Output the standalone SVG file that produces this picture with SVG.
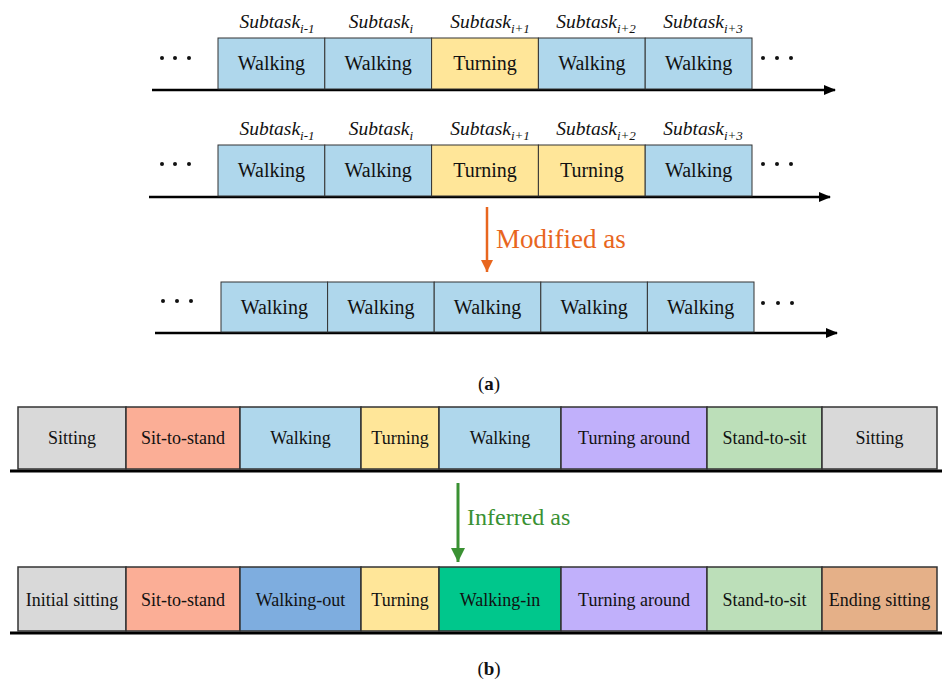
<svg xmlns="http://www.w3.org/2000/svg" width="942" height="684" viewBox="0 0 942 684">
<defs>
<style>
text{font-family:"Liberation Serif","Times New Roman",serif;fill:#111}
.t{font-size:20px;text-anchor:middle}
.tb{font-size:18px;text-anchor:middle}
.lab{font-size:19.5px;font-style:italic;text-anchor:middle}
.sub{font-size:13px}
.ba{stroke:#333;stroke-width:1}
.bb{stroke:#333;stroke-width:1.5}
.blue{fill:#AFD7EC}.yel{fill:#FFE699}.gray{fill:#D9D9D9}.sal{fill:#FBAE96}.pur{fill:#C1B0FB}.lg{fill:#BCDFB9}.wo{fill:#7EADDF}.wi{fill:#00C78C}.es{fill:#E5B088}
.axis{stroke:#000;stroke-width:2.5;fill:none}
.dot{fill:#111}
</style>
<marker id="ah" markerWidth="12" markerHeight="10" refX="11" refY="5" orient="auto" markerUnits="userSpaceOnUse"><path d="M0,0 L12,5 L0,10 Z" fill="#000"/></marker>
<marker id="ao" markerWidth="12" markerHeight="12" refX="6" refY="12" orient="0" markerUnits="userSpaceOnUse"><path d="M0,0 L12,0 L6,12 Z" fill="#E8661E"/></marker>
<marker id="ag" markerWidth="14" markerHeight="14" refX="7" refY="14" orient="0" markerUnits="userSpaceOnUse"><path d="M0,0 L14,0 L7,14 Z" fill="#3A9133"/></marker>
</defs>
<rect width="942" height="684" fill="#fff"/>

<g id="connectors">
<line class="axis" x1="152" y1="90" x2="835" y2="90" marker-end="url(#ah)"/>
<line class="axis" x1="149" y1="197" x2="830" y2="197" marker-end="url(#ah)"/>
<line class="axis" x1="155" y1="333" x2="837" y2="333" marker-end="url(#ah)"/>
<line x1="10" y1="471" x2="942" y2="471" stroke="#000" stroke-width="3"/>
<line x1="10" y1="633" x2="942" y2="633" stroke="#000" stroke-width="3"/>
<line x1="487" y1="207" x2="487" y2="272" stroke="#E8661E" stroke-width="2.5" marker-end="url(#ao)"/>
<line x1="458" y1="483" x2="458" y2="562" stroke="#3A9133" stroke-width="3" marker-end="url(#ag)"/>
</g>

<g id="row-a1">
<g id="a1-dots-l"><circle class="dot" cx="162" cy="58" r="2"/><circle class="dot" cx="175" cy="58" r="2"/><circle class="dot" cx="189" cy="58" r="2"/></g>
<g id="a1-n1"><rect class="ba blue" x="218" y="38" width="106.8" height="51"/><text class="t" x="271.4" y="70">Walking</text><text class="lab" x="277" y="28">Subtask<tspan class="sub" dy="5">i-1</tspan></text></g>
<g id="a1-n2"><rect class="ba blue" x="324.8" y="38" width="106.8" height="51"/><text class="t" x="378.2" y="70">Walking</text><text class="lab" x="381" y="28">Subtask<tspan class="sub" dy="5">i</tspan></text></g>
<g id="a1-n3"><rect class="ba yel" x="431.6" y="38" width="106.8" height="51"/><text class="t" x="485" y="70">Turning</text><text class="lab" x="490" y="28">Subtask<tspan class="sub" dy="5">i+1</tspan></text></g>
<g id="a1-n4"><rect class="ba blue" x="538.4" y="38" width="106.8" height="51"/><text class="t" x="591.8" y="70">Walking</text><text class="lab" x="596" y="28">Subtask<tspan class="sub" dy="5">i+2</tspan></text></g>
<g id="a1-n5"><rect class="ba blue" x="645.2" y="38" width="106.8" height="51"/><text class="t" x="698.6" y="70">Walking</text><text class="lab" x="703" y="28">Subtask<tspan class="sub" dy="5">i+3</tspan></text></g>
<g id="a1-dots-r"><circle class="dot" cx="763" cy="58" r="2"/><circle class="dot" cx="777" cy="58" r="2"/><circle class="dot" cx="791" cy="58" r="2"/></g>
</g>

<g id="row-a2">
<g id="a2-dots-l"><circle class="dot" cx="162" cy="164" r="2"/><circle class="dot" cx="175" cy="164" r="2"/><circle class="dot" cx="189" cy="164" r="2"/></g>
<g id="a2-n1"><rect class="ba blue" x="218" y="145" width="106.8" height="51"/><text class="t" x="271.4" y="177">Walking</text><text class="lab" x="277" y="135">Subtask<tspan class="sub" dy="5">i-1</tspan></text></g>
<g id="a2-n2"><rect class="ba blue" x="324.8" y="145" width="106.8" height="51"/><text class="t" x="378.2" y="177">Walking</text><text class="lab" x="381" y="135">Subtask<tspan class="sub" dy="5">i</tspan></text></g>
<g id="a2-n3"><rect class="ba yel" x="431.6" y="145" width="106.8" height="51"/><text class="t" x="485" y="177">Turning</text><text class="lab" x="490" y="135">Subtask<tspan class="sub" dy="5">i+1</tspan></text></g>
<g id="a2-n4"><rect class="ba yel" x="538.4" y="145" width="106.8" height="51"/><text class="t" x="591.8" y="177">Turning</text><text class="lab" x="596" y="135">Subtask<tspan class="sub" dy="5">i+2</tspan></text></g>
<g id="a2-n5"><rect class="ba blue" x="645.2" y="145" width="106.8" height="51"/><text class="t" x="698.6" y="177">Walking</text><text class="lab" x="703" y="135">Subtask<tspan class="sub" dy="5">i+3</tspan></text></g>
<g id="a2-dots-r"><circle class="dot" cx="763" cy="164" r="2"/><circle class="dot" cx="777" cy="164" r="2"/><circle class="dot" cx="791" cy="164" r="2"/></g>
</g>

<g id="modified-label"><text x="496" y="248" font-size="27" style="fill:#E8661E">Modified as</text></g>

<g id="row-a3">
<g id="a3-dots-l"><circle class="dot" cx="163" cy="301" r="2"/><circle class="dot" cx="177" cy="301" r="2"/><circle class="dot" cx="191" cy="301" r="2"/></g>
<g id="a3-n1"><rect class="ba blue" x="221" y="282" width="106.6" height="50"/><text class="t" x="274.3" y="314">Walking</text></g>
<g id="a3-n2"><rect class="ba blue" x="327.6" y="282" width="106.6" height="50"/><text class="t" x="380.9" y="314">Walking</text></g>
<g id="a3-n3"><rect class="ba blue" x="434.2" y="282" width="106.6" height="50"/><text class="t" x="487.5" y="314">Walking</text></g>
<g id="a3-n4"><rect class="ba blue" x="540.8" y="282" width="106.6" height="50"/><text class="t" x="594.1" y="314">Walking</text></g>
<g id="a3-n5"><rect class="ba blue" x="647.4" y="282" width="106.6" height="50"/><text class="t" x="700.7" y="314">Walking</text></g>
<g id="a3-dots-r"><circle class="dot" cx="763" cy="303" r="2"/><circle class="dot" cx="778" cy="303" r="2"/><circle class="dot" cx="792" cy="303" r="2"/></g>
</g>

<g id="caption-a"><text x="489" y="390" font-size="19" text-anchor="middle">(<tspan font-weight="bold">a</tspan>)</text></g>

<g id="row-b1">
<g id="b1-n1"><rect class="bb gray" x="18" y="407" width="108" height="62"/><text class="tb" x="72" y="444">Sitting</text></g>
<g id="b1-n2"><rect class="bb sal" x="126" y="407" width="114" height="62"/><text class="tb" x="183" y="444">Sit-to-stand</text></g>
<g id="b1-n3"><rect class="bb blue" x="240" y="407" width="121" height="62"/><text class="tb" x="300.5" y="444">Walking</text></g>
<g id="b1-n4"><rect class="bb yel" x="361" y="407" width="78" height="62"/><text class="tb" x="400" y="444">Turning</text></g>
<g id="b1-n5"><rect class="bb blue" x="439" y="407" width="122" height="62"/><text class="tb" x="500" y="444">Walking</text></g>
<g id="b1-n6"><rect class="bb pur" x="561" y="407" width="146" height="62"/><text class="tb" x="634" y="444">Turning around</text></g>
<g id="b1-n7"><rect class="bb lg" x="707" y="407" width="115" height="62"/><text class="tb" x="764.5" y="444">Stand-to-sit</text></g>
<g id="b1-n8"><rect class="bb gray" x="822" y="407" width="115" height="62"/><text class="tb" x="879.5" y="444">Sitting</text></g>
</g>

<g id="inferred-label"><text x="467" y="525" font-size="24" style="fill:#3A9133">Inferred as</text></g>

<g id="row-b2">
<g id="b2-n1"><rect class="bb gray" x="18" y="567" width="108" height="64"/><text class="tb" x="72" y="606">Initial sitting</text></g>
<g id="b2-n2"><rect class="bb sal" x="126" y="567" width="114" height="64"/><text class="tb" x="183" y="606">Sit-to-stand</text></g>
<g id="b2-n3"><rect class="bb wo" x="240" y="567" width="121" height="64"/><text class="tb" x="300.5" y="606">Walking-out</text></g>
<g id="b2-n4"><rect class="bb yel" x="361" y="567" width="78" height="64"/><text class="tb" x="400" y="606">Turning</text></g>
<g id="b2-n5"><rect class="bb wi" x="439" y="567" width="122" height="64"/><text class="tb" x="500" y="606">Walking-in</text></g>
<g id="b2-n6"><rect class="bb pur" x="561" y="567" width="146" height="64"/><text class="tb" x="634" y="606">Turning around</text></g>
<g id="b2-n7"><rect class="bb lg" x="707" y="567" width="115" height="64"/><text class="tb" x="764.5" y="606">Stand-to-sit</text></g>
<g id="b2-n8"><rect class="bb es" x="822" y="567" width="115" height="64"/><text class="tb" x="879.5" y="606">Ending sitting</text></g>
</g>

<g id="caption-b"><text x="489" y="675" font-size="19" text-anchor="middle">(<tspan font-weight="bold">b</tspan>)</text></g>
</svg>
